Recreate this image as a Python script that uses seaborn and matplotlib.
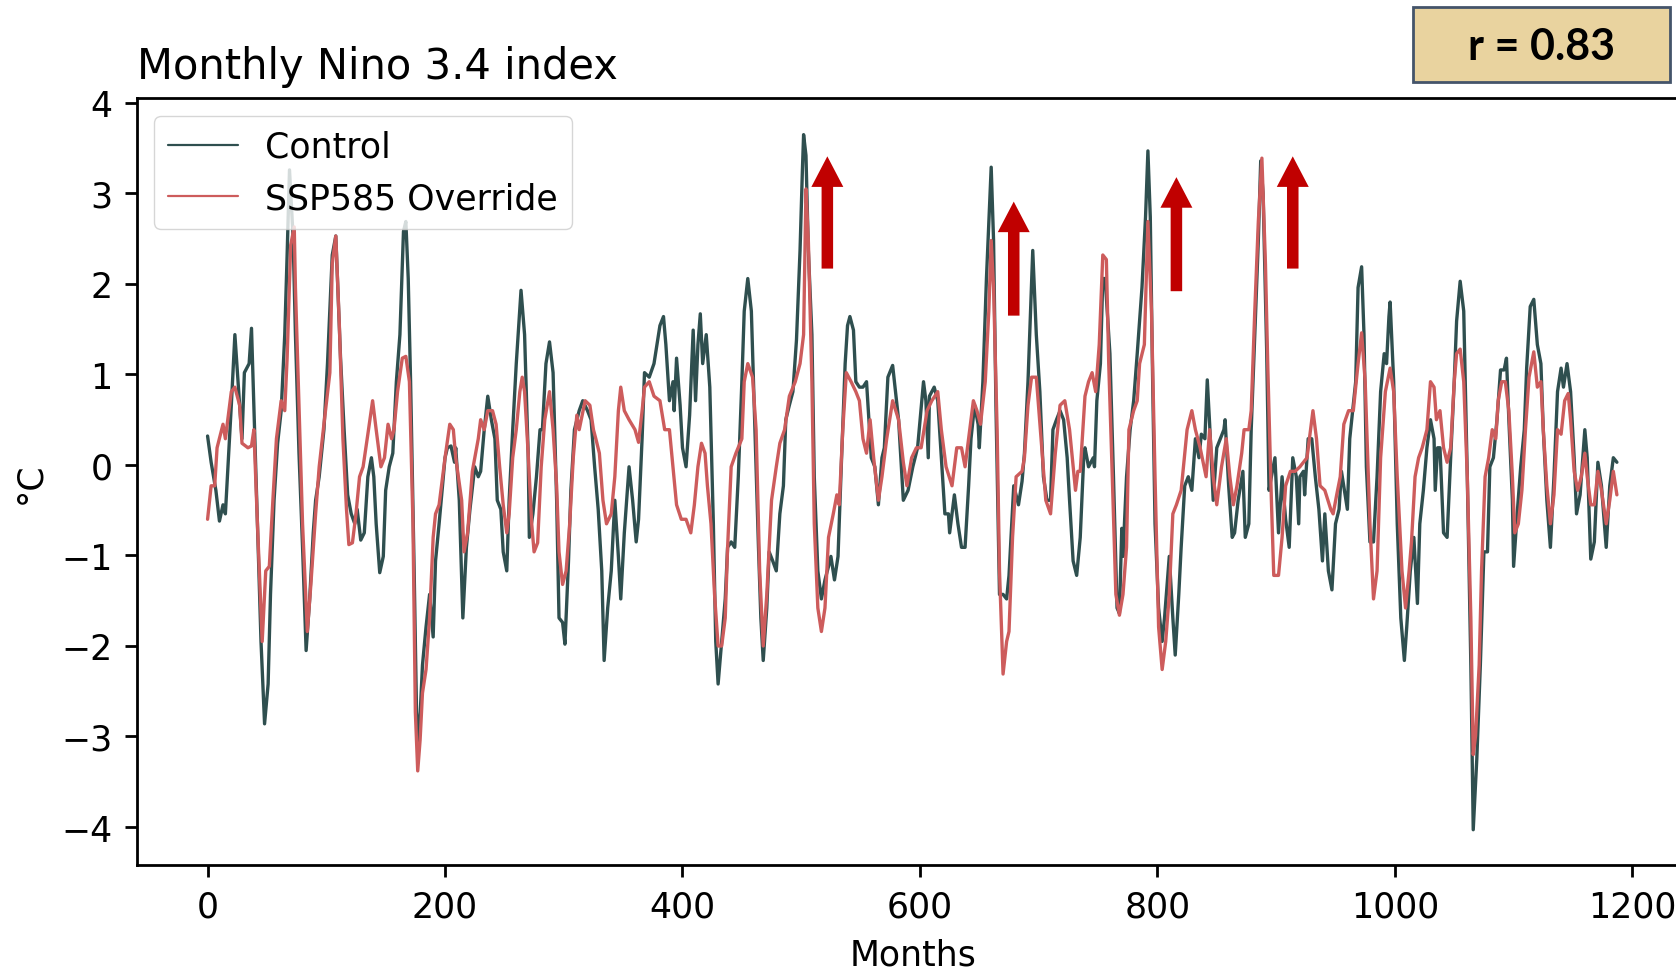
import pandas as pd
import matplotlib.pyplot as plt
import seaborn as sns
from matplotlib.patches import Rectangle

# Indice Nino 3.4 mensual
meses_control = [
    0, 3, 7, 10, 13, 15, 20, 23, 27, 29, 31, 35, 37, 39, 42, 45, 48, 51, 53, 56,
    59, 62, 65, 67, 69, 72, 74, 77, 80, 83, 86, 89, 91, 94, 98, 101, 105, 108, 110, 112,
    115, 118, 121, 124, 126, 129, 132, 135, 138, 140, 142, 145, 148, 150, 153, 156, 159, 162, 165, 167,
    169, 171, 174, 176, 178, 181, 184, 187, 190, 192, 195, 200, 202, 205, 208, 209, 212, 215, 218, 221,
    225, 228, 230, 233, 236, 239, 242, 244, 247, 249, 252, 254, 257, 260, 264, 267, 270, 271, 274, 277,
    280, 282, 285, 288, 291, 294, 296, 299, 301, 304, 306, 309, 313, 316, 320, 323, 326, 329, 332, 334,
    337, 340, 343, 346, 348, 351, 355, 358, 361, 363, 366, 368, 372, 376, 381, 384, 386, 389, 392, 393,
    395, 398, 400, 403, 406, 409, 411, 413, 415, 417, 420, 423, 426, 428, 430, 433, 436, 438, 441, 444,
    447, 450, 452, 455, 458, 461, 464, 466, 468, 471, 473, 476, 479, 482, 485, 487, 490, 493, 496, 499,
    501, 502, 504, 506, 509, 511, 514, 517, 520, 523, 525, 528, 531, 534, 537, 539, 541, 544, 546, 549,
    552, 555, 556, 559, 562, 565, 568, 570, 573, 577, 582, 586, 590, 594, 598, 603, 605, 607, 608, 612,
    615, 618, 621, 624, 625, 629, 632, 635, 638, 641, 643, 646, 649, 650, 653, 656, 660, 662, 664, 667,
    670, 673, 675, 679, 683, 686, 688, 691, 695, 698, 701, 704, 707, 710, 712, 715, 718, 721, 724, 726,
    729, 732, 735, 738, 739, 742, 746, 747, 749, 752, 754, 756, 760, 763, 766, 768, 770, 771, 774, 777,
    780, 783, 787, 790, 792, 794, 796, 798, 801, 804, 806, 810, 813, 815, 818, 820, 823, 826, 829, 832,
    835, 837, 840, 842, 844, 847, 850, 853, 856, 857, 860, 863, 865, 868, 872, 874, 877, 879, 882, 885,
    887, 889, 892, 894, 896, 899, 902, 905, 908, 911, 914, 917, 919, 920, 923, 924, 927, 930, 933, 936,
    939, 941, 944, 947, 950, 953, 955, 960, 962, 967, 969, 972, 974, 976, 979, 982, 985, 988, 991, 993,
    995, 996, 999, 1002, 1005, 1008, 1010, 1013, 1016, 1019, 1021, 1024, 1027, 1030, 1033, 1034, 1036, 1038, 1041, 1044,
    1047, 1050, 1052, 1055, 1058, 1061, 1064, 1066, 1069, 1072, 1075, 1078, 1080, 1083, 1086, 1089, 1092, 1094, 1096, 1099,
    1100, 1103, 1106, 1109, 1111, 1114, 1117, 1120, 1123, 1125, 1128, 1131, 1134, 1137, 1140, 1142, 1145, 1148, 1151, 1153,
    1156, 1160, 1162, 1165, 1168, 1171, 1174, 1178, 1181, 1184, 1187,
]
control = [
    0.32, 0.03, -0.28, -0.62, -0.44, -0.54, 0.66, 1.44, 0.66, 0.29, 1.02, 1.12, 1.51, 0.66, -0.65, -1.95, -2.86, -2.42, -1.43, -0.39,
    0.24, 0.6, 1.44, 2.32, 3.26, 2.53, 1.44, 0.13, -0.91, -2.05, -1.48, -0.75, -0.39, -0.13, 0.39, 1.12, 2.32, 2.53, 1.85, 1.18,
    0.39, -0.33, -0.54, -0.65, -0.49, -0.83, -0.75, -0.13, 0.08, -0.13, -0.65, -1.19, -1.01, -0.28, -0.02, 0.13, 0.92, 1.44, 2.58, 2.69,
    2.06, 0.92, -1.17, -2.73, -3.05, -2.21, -1.79, -1.43, -1.9, -1.06, -0.65, 0.08, 0.19, 0.21, 0.03, 0.19, -0.39, -1.69, -0.91, -0.49,
    -0.02, -0.13, -0.07, 0.39, 0.76, 0.5, 0.29, -0.39, -0.49, -0.96, -1.17, -0.39, 0.39, 1.12, 1.93, 1.44, 0.13, -0.8, -0.54, -0.13,
    0.39, 0.39, 1.12, 1.36, 1.02, -0.39, -1.69, -1.74, -1.98, -1.06, -0.28, 0.39, 0.6, 0.71, 0.6, 0.5, -0.02, -0.49, -1.17, -2.16,
    -1.58, -1.17, -0.39, -1.01, -1.48, -0.75, -0.02, -0.39, -0.85, -0.6, 0.3, 1.02, 0.97, 1.12, 1.54, 1.64, 1.33, 0.71, 0.92, 0.6,
    1.18, 0.66, 0.19, -0.02, 0.55, 1.49, 0.71, 1.33, 1.67, 1.12, 1.44, 0.86, -0.65, -1.95, -2.42, -1.95, -1.48, -0.91, -0.85, -0.91,
    -0.13, 0.92, 1.7, 2.06, 1.7, 0.39, -0.91, -1.69, -2.16, -1.58, -0.96, -1.06, -1.17, -0.54, -0.23, 0.5, 0.66, 0.81, 1.38, 2.37,
    3.26, 3.65, 3.42, 2.37, 1.44, -0.13, -1.17, -1.48, -1.27, -1.12, -1.01, -1.27, -1.01, 0.08, 1.12, 1.54, 1.64, 1.49, 0.92, 0.86,
    0.86, 0.92, 0.71, 0.08, -0.02, -0.44, 0.08, 0.19, 0.97, 1.1, 0.5, -0.39, -0.28, -0.02, 0.19, 0.92, 0.71, 0.08, 0.76, 0.86,
    0.71, 0.08, -0.54, -0.54, -0.75, -0.33, -0.65, -0.91, -0.91, -0.23, 0.29, 0.66, 0.45, 0.19, 0.92, 2.06, 3.29, 2.48, 0.66, -1.43,
    -1.43, -1.48, -1.22, -0.23, -0.44, -0.18, 0.13, 0.92, 2.37, 1.44, 0.81, -0.13, -0.39, -0.39, 0.39, 0.5, 0.6, 0.5, 0.08, -0.39,
    -1.06, -1.22, -0.8, 0.1, 0.19, -0.02, 0.08, -0.02, 0.71, 1.12, 2.06, 2.06, 1.23, -0.13, -1.58, -1.64, -0.7, -1.01, -0.13, 0.39,
    0.71, 1.23, 1.96, 2.74, 3.47, 2.74, 0.92, -0.65, -1.58, -1.95, -1.69, -1.01, -1.69, -2.1, -1.43, -0.91, -0.23, -0.13, -0.28, 0.29,
    0.08, 0.34, 0.29, 0.94, 0.45, -0.39, 0.19, 0.29, 0.39, 0.5, -0.23, -0.8, -0.75, -0.39, -0.07, -0.8, -0.65, 0.39, 1.44, 2.48,
    3.36, 3.0, 1.28, -0.28, -0.13, 0.08, -0.75, -0.13, -0.6, -0.91, 0.08, -0.13, -0.65, -0.13, -0.07, -0.33, 0.29, 0.29, -0.13, -0.49,
    -1.06, -0.54, -1.17, -1.38, -0.65, -0.49, -0.07, -0.49, 0.29, 0.92, 1.96, 2.19, 1.44, -0.02, -0.85, -0.85, -0.13, 0.81, 1.23, 1.12,
    1.64, 1.8, 0.92, -0.65, -1.69, -2.16, -1.79, -1.17, -0.8, -1.53, -0.65, -0.28, 0.19, 0.5, 0.29, -0.28, 0.19, 0.19, -0.75, -0.8,
    0.08, 0.92, 1.59, 2.03, 1.7, -0.13, -2.21, -4.03, -3.25, -2.21, -0.96, -0.96, -0.02, 0.08, 0.5, 1.05, 1.05, 1.18, 0.5, -0.39,
    -1.12, -0.54, -0.02, 0.39, 1.07, 1.75, 1.83, 1.33, 1.12, 0.39, -0.39, -0.91, -0.13, 0.81, 1.07, 0.86, 1.12, 0.81, 0.08, -0.54,
    -0.33, 0.39, 0.08, -1.04, -0.85, 0.03, -0.23, -0.91, -0.23, 0.08, 0.03,
]

meses_ssp = [
    0, 3, 6, 8, 13, 15, 20, 23, 27, 29, 34, 37, 39, 42, 46, 49, 52, 55, 58, 62,
    65, 67, 70, 73, 74, 77, 80, 84, 87, 91, 94, 98, 103, 105, 108, 111, 114, 117, 119, 122,
    125, 128, 131, 135, 139, 142, 146, 149, 152, 155, 157, 160, 164, 167, 170, 173, 175, 177, 179, 181,
    184, 187, 190, 192, 195, 200, 204, 207, 209, 214, 216, 219, 223, 228, 230, 233, 236, 240, 243, 246,
    249, 252, 254, 257, 260, 263, 265, 267, 270, 273, 275, 278, 281, 284, 288, 291, 294, 296, 299, 302,
    305, 308, 311, 313, 318, 322, 325, 327, 330, 333, 336, 340, 343, 346, 348, 351, 355, 360, 363, 366,
    368, 372, 376, 381, 385, 389, 392, 395, 399, 403, 407, 410, 413, 416, 419, 421, 424, 427, 430, 433,
    436, 438, 441, 445, 450, 452, 455, 459, 462, 465, 468, 471, 475, 479, 482, 486, 490, 495, 499, 502,
    504, 506, 509, 511, 514, 517, 520, 523, 527, 530, 532, 535, 538, 542, 546, 549, 552, 555, 558, 561,
    565, 568, 572, 577, 582, 586, 589, 593, 597, 601, 606, 610, 615, 618, 622, 627, 631, 635, 638, 641,
    645, 648, 651, 655, 658, 660, 662, 665, 667, 670, 673, 675, 678, 681, 686, 688, 691, 694, 698, 702,
    706, 710, 714, 718, 722, 726, 731, 733, 735, 739, 742, 745, 748, 751, 754, 757, 759, 762, 765, 768,
    771, 774, 776, 780, 783, 785, 789, 792, 795, 798, 801, 804, 807, 810, 813, 816, 820, 825, 829, 832,
    836, 841, 844, 847, 850, 854, 858, 861, 864, 867, 871, 873, 877, 879, 882, 885, 888, 891, 893, 896,
    898, 902, 905, 908, 912, 916, 920, 923, 926, 929, 931, 934, 937, 941, 946, 948, 951, 954, 957, 961,
    965, 969, 972, 975, 979, 982, 985, 988, 992, 996, 999, 1002, 1006, 1009, 1012, 1014, 1017, 1020, 1023, 1027,
    1030, 1033, 1035, 1038, 1041, 1044, 1047, 1050, 1052, 1055, 1058, 1061, 1064, 1066, 1068, 1071, 1073, 1076, 1079, 1082,
    1085, 1087, 1090, 1093, 1096, 1099, 1101, 1104, 1107, 1110, 1113, 1117, 1120, 1123, 1125, 1128, 1131, 1134, 1137, 1140,
    1143, 1146, 1148, 1151, 1154, 1157, 1160, 1162, 1165, 1168, 1171, 1174, 1178, 1181, 1184, 1187,
]
ssp585 = [
    -0.6, -0.23, -0.23, 0.19, 0.45, 0.29, 0.81, 0.86, 0.66, 0.24, 0.19, 0.21, 0.39, -0.65, -1.95, -1.17, -1.12, -0.39, 0.29, 0.71,
    0.6, 1.18, 2.43, 2.63, 1.96, 0.66, -0.65, -1.84, -1.32, -0.54, -0.02, 0.45, 1.02, 2.22, 2.53, 1.54, 0.29, -0.49, -0.88, -0.86,
    -0.54, -0.13, -0.02, 0.34, 0.71, 0.39, -0.02, 0.08, 0.45, 0.29, 0.39, 0.81, 1.18, 1.2, 0.92, -0.65, -2.73, -3.38, -3.04, -2.52,
    -2.26, -1.69, -0.8, -0.54, -0.44, 0.08, 0.45, 0.39, 0.08, -0.39, -0.96, -0.75, -0.07, 0.29, 0.5, 0.39, 0.6, 0.6, 0.45, -0.02,
    -0.44, -0.75, -0.54, 0.08, 0.39, 0.81, 0.97, 0.81, 0.13, -0.65, -0.96, -0.86, -0.02, 0.5, 0.81, 0.39, -0.23, -0.96, -1.32, -1.17,
    -0.65, 0.08, 0.55, 0.39, 0.71, 0.66, 0.39, 0.29, 0.13, -0.39, -0.65, -0.54, -0.13, 0.6, 0.86, 0.6, 0.5, 0.39, 0.25, 0.6,
    0.86, 0.92, 0.76, 0.71, 0.39, 0.39, -0.02, -0.44, -0.6, -0.6, -0.75, -0.44, -0.02, 0.24, 0.13, -0.23, -0.65, -1.43, -2.0, -2.0,
    -1.69, -0.91, -0.02, 0.13, 0.29, 0.92, 1.12, 0.97, 0.39, -1.17, -2.0, -1.43, -0.39, -0.02, 0.24, 0.39, 0.76, 0.92, 1.12, 1.44,
    3.05, 2.48, 0.92, -0.65, -1.58, -1.84, -1.58, -0.8, -0.54, -0.33, -0.44, 0.39, 1.02, 0.92, 0.81, 0.71, 0.29, 0.13, 0.5, 0.08,
    -0.39, -0.13, 0.29, 0.71, 0.5, 0.03, -0.23, 0.08, 0.19, 0.19, 0.6, 0.71, 0.81, 0.39, -0.02, -0.23, 0.19, 0.19, -0.02, 0.29,
    0.71, 0.6, 0.45, 0.92, 1.7, 2.48, 1.96, 0.39, -1.17, -2.31, -1.95, -1.84, -0.8, -0.13, -0.07, 0.08, 0.66, 0.97, 0.97, 0.29,
    -0.39, -0.54, 0.13, 0.66, 0.71, 0.39, -0.28, -0.07, -0.07, 0.76, 0.92, 1.02, 0.81, 1.33, 2.32, 2.27, 1.12, -0.13, -1.43, -1.66,
    -1.43, -0.91, 0.39, 0.6, 0.71, 1.12, 1.33, 2.69, 1.7, -0.13, -1.79, -2.26, -1.95, -1.43, -0.54, -0.44, -0.28, 0.39, 0.6, 0.39,
    0.19, -0.13, 0.39, -0.13, -0.44, -0.02, 0.29, -0.13, -0.44, -0.23, 0.13, 0.39, 0.39, 0.6, 1.7, 2.69, 3.39, 2.22, 1.07, -0.39,
    -1.22, -1.22, -0.8, -0.23, -0.07, -0.07, -0.02, 0.03, 0.08, 0.39, 0.6, 0.29, -0.23, -0.28, -0.49, -0.54, -0.33, -0.13, 0.45, 0.6,
    0.6, 1.12, 1.46, 0.92, -0.65, -1.48, -1.17, 0.08, 0.81, 1.07, 0.81, -0.13, -1.17, -1.58, -1.17, -0.85, -0.13, 0.08, 0.19, 0.39,
    0.92, 0.86, 0.5, 0.6, 0.19, 0.03, 0.19, 0.92, 1.23, 1.28, 0.92, -0.13, -1.69, -3.2, -2.99, -2.21, -1.17, -0.13, 0.08, 0.39,
    0.29, 0.71, 0.92, 0.92, 0.6, -0.13, -0.75, -0.65, -0.28, 0.39, 0.97, 1.25, 0.86, 0.92, 0.39, -0.23, -0.65, -0.33, 0.39, 0.34,
    0.71, 0.79, 0.5, -0.07, -0.28, -0.13, 0.13, -0.13, -0.44, -0.44, -0.07, -0.28, -0.65, -0.39, -0.07, -0.33,
]

# Flechas rojas (mes, base, punta)
flecha_mes = [522, 679, 816, 914]
flecha_base = [2.17, 1.65, 1.92, 2.17]
flecha_punta = [3.41, 2.91, 3.18, 3.41]

etiqueta_r = "r = 0.83"

sns.set_theme(style="ticks", rc={
    "axes.edgecolor": "black", "axes.labelcolor": "black", "text.color": "black",
    "xtick.color": "black", "ytick.color": "black",
    "font.size": 25, "axes.labelsize": 25, "axes.titlesize": 30,
    "xtick.labelsize": 25, "ytick.labelsize": 25, "legend.fontsize": 25,
    "axes.linewidth": 2, "xtick.major.width": 2, "ytick.major.width": 2,
    "xtick.major.size": 8.75, "ytick.major.size": 8.75,
    "xtick.major.pad": 8.75, "ytick.major.pad": 8.75,
})
plt.rcParams["font.family"] = ["DejaVu Sans"]

fig = plt.figure(figsize=(16.76, 9.70), dpi=100)
ax = fig.add_axes([0.0817, 0.1072, 0.9266, 0.7903])

sns.lineplot(x=meses_control, y=control, color="darkslategray", lw=2.4,
             label="Control", estimator=None, ax=ax)
sns.lineplot(x=meses_ssp, y=ssp585, color="indianred", lw=2.4,
             label="SSP585 Override", estimator=None, ax=ax)

ax.set_xlim(-59.5, 1248.5)
ax.set_ylim(-4.42, 4.05)
ax.set_xticks(range(0, 1201, 200))
ax.set_yticks(range(-4, 5))
ax.set_xlabel("Months", labelpad=10)
ax.set_ylabel("°C", labelpad=10)
ax.set_title("Monthly Nino 3.4 index", loc="left", pad=15)
leg = ax.legend(loc="upper left", handlelength=2)
for h in leg.get_lines():
    h.set_linewidth(1.6)

for m, b, p in zip(flecha_mes, flecha_base, flecha_punta):
    ax.annotate("", xy=(m, p), xytext=(m, b),
                arrowprops=dict(arrowstyle="simple,head_width=23,head_length=22,tail_width=8.3",
                                mutation_scale=1, color="#C00000", lw=0,
                                shrinkA=0, shrinkB=0))

# Recuadro de correlacion
fig.add_artist(Rectangle((0.8431, 0.914), 0.1533, 0.0782, transform=fig.transFigure,
                         facecolor="#E9D39F", edgecolor="#44546A", lw=2))
fig.text(0.9197, 0.952, etiqueta_r, ha="center", va="center", fontsize=31,
         fontweight="bold", family=["Lato", "DejaVu Sans"])

fig.savefig("out.png", dpi=100)
